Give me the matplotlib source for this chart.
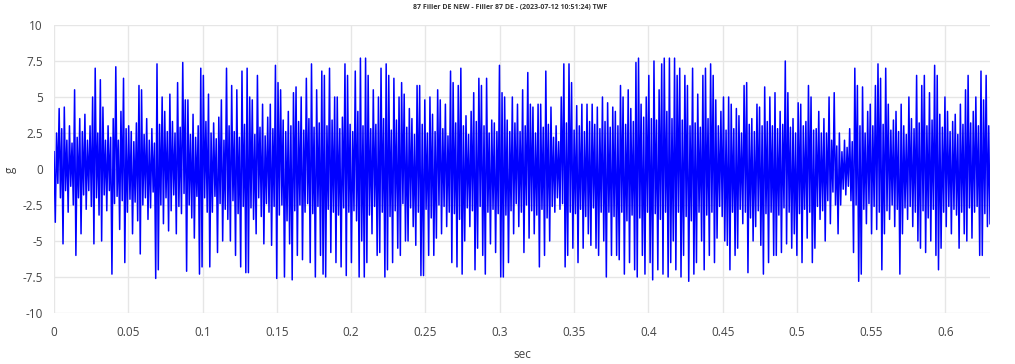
import numpy as np
import matplotlib
matplotlib.use('Agg')
import matplotlib.pyplot as plt

plt.rcParams['font.family'] = ['Open Sans', 'DejaVu Sans']

title = '87 Filler DE NEW - Filler 87 DE - (2023-07-12 10:51:24) TWF'
duration = 0.63  # sec, length of the record
x_ticks = [0, 0.05, 0.1, 0.15, 0.2, 0.25, 0.3, 0.35, 0.4, 0.45, 0.5, 0.55, 0.6]
y_ticks = [-10, -7.5, -5, -2.5, 0, 2.5, 5, 7.5, 10]

# waveform peaks (g), high/low pairs, left to right
seg1 = [1.2, -3.7, 2.5, -1.0, 4.2, -2.0, 2.8, -5.2, 4.3, -1.5, 2.0, -3.0, 3.0, -1.2, 1.8, -2.5,
        5.5, -6.0, 2.2, -2.0, 3.5, -4.5, 2.6, -1.8, 3.8, -2.8, 2.0, -1.5, 3.0, -2.6, 5.0, -5.2,
        7.0, -2.0, 2.5, -3.2, 6.2, -5.0, 4.3, -1.8, 2.0, -2.9, 3.0, -1.5, 2.2, -7.3, 3.5, -2.4,
        7.1, -1.9, 2.0, -4.2, 4.0, -2.2, 6.3, -6.5, 2.8, -3.0, 3.0, -2.1, 2.6, -4.5, 1.9, -2.3,
        3.2, -3.6, 5.8, -5.9, 5.5, -2.5, 2.4, -2.0, 3.5, -3.5, 2.0, -2.7, 2.8, -1.6, 1.8, -7.6,
        7.3, -7.0, 3.1, -2.5, 5.0, -3.8, 4.0, -2.0, 2.6, -4.3, 5.2, -2.9, 3.3, -1.8, 2.5, -4.5,
        6.0, -2.6, 2.9, -3.1, 7.4, -1.7, 4.8, -7.1, 4.8, -2.5, 2.4, -3.4, 3.8, -4.8, 2.2, -1.9,
        3.0, -7.3, 7.0, -6.8, 6.5, -2.0, 3.3, -3.0]
seg2 = [5.2, -6.8, 2.5, -3.0, 3.2, -1.9, 2.1, -5.8, 3.6, -2.4, 4.8, -5.0, 2.0, -2.8, 7.0, -3.5,
        3.0, -5.0, 5.8, -2.2, 2.6, -6.0, 5.5, -3.1, 2.2, -6.8, 6.8, -2.6, 3.1, -7.2, 7.0, -7.2,
        5.0, -2.7, 4.8, -3.5, 2.4, -4.5, 6.5, -2.0, 2.9, -3.3, 4.5, -5.2, 2.3, -2.4, 3.6, -3.0,
        4.5, -5.3, 2.8, -2.6, 7.2, -7.6, 6.0, -3.2, 5.5, -2.5, 3.4, -7.5, 2.6, -3.6, 4.0, -5.2,
        3.0, -7.7, 5.3, -2.9, 5.7, -6.0, 3.3, -2.5, 5.0, -6.3, 2.7, -3.0, 6.3, -2.4, 3.5, -6.5,
        7.3, -3.1, 2.9, -7.5, 5.5, -2.6, 3.2, -6.0, 6.8, -7.3, 6.5, -7.5, 3.0, -2.8, 7.0, -5.8,
        3.4, -3.0, 5.0, -6.5, 5.0, -3.2, 2.8, -6.8, 3.6, -2.7, 7.3, -7.4, 6.5, -3.0, 3.1, -6.5,
        2.6, -2.9, 6.8, -3.6, 4.0, -7.5, 7.7, -5.0]
seg3 = [3.0, -7.5, 7.7, -6.5, 6.5, -3.2, 2.8, -4.5, 5.5, -2.6, 3.1, -6.0, 5.0, -5.8, 7.0, -3.0,
        3.5, -7.5, 7.3, -7.0, 6.5, -3.3, 2.7, -6.5, 6.3, -2.9, 3.4, -5.5, 5.0, -6.0, 6.0, -2.4,
        5.2, -5.0, 2.9, -5.0, 4.2, -2.7, 3.5, -4.0, 2.4, -5.3, 5.8, -3.0, 5.8, -7.4, 3.1, -7.4,
        4.8, -2.8, 2.5, -6.0, 5.0, -3.4, 3.8, -6.0, 2.6, -4.8, 5.5, -2.5, 4.8, -4.5, 2.8, -2.6,
        4.5, -4.0, 2.3, -3.0, 6.8, -6.5, 6.0, -3.1, 3.2, -6.8, 5.8, -3.5, 7.0, -7.3, 3.0, -5.0,
        3.7, -2.7, 2.4, -4.0, 4.0, -2.9, 5.3, -7.0, 3.3, -5.5, 6.3, -2.6, 5.8, -6.0, 3.0, -7.3,
        6.3, -3.0, 2.5, -5.2, 3.4, -2.8, 3.2, -5.8, 2.6, -3.1, 7.2, -7.5, 5.3, -7.5, 5.0, -3.2,
        3.4, -6.5, 2.6, -2.9, 5.0, -4.5, 3.2, -2.4]
seg4 = [4.5, -4.0, 2.6, -3.0, 5.5, -5.8, 3.0, -2.5, 6.7, -4.8, 4.5, -2.9, 4.3, -4.5, 2.5, -3.2,
        4.5, -6.8, 4.5, -2.8, 2.9, -6.0, 6.8, -3.4, 3.1, -5.0, 4.3, -2.6, 2.2, -3.0, 3.0, -2.0,
        1.9, -2.8, 5.0, -2.4, 7.3, -6.8, 3.2, -6.0, 7.3, -3.0, 6.0, -5.5, 2.7, -3.1, 4.4, -6.5,
        3.0, -2.8, 4.5, -5.5, 2.6, -3.3, 4.5, -4.5, 3.3, -5.3, 4.5, -2.7, 3.1, -5.5, 4.3, -6.0,
        2.8, -3.0, 5.0, -5.0, 3.3, -7.5, 4.6, -3.0, 2.9, -6.0, 4.3, -3.3, 4.0, -6.0, 3.0, -6.3,
        5.8, -3.0, 5.0, -7.3, 3.1, -3.6, 5.5, -6.5, 4.2, -3.2, 3.3, -7.0, 7.4, -7.5, 7.7, -3.4,
        4.5, -6.0, 3.6, -7.3, 5.0, -3.0, 6.5, -6.5, 3.5, -7.7, 7.5, -3.1, 3.4, -7.0, 5.5, -3.5,
        7.3, -7.3, 7.7, -3.0, 4.0, -7.5, 7.7, -6.5]
seg5 = [3.5, -5.0, 7.7, -7.0, 6.5, -3.0, 7.0, -7.5, 3.4, -6.0, 6.5, -3.3, 5.8, -7.8, 3.0, -3.6,
        7.0, -7.3, 3.2, -6.5, 5.2, -3.0, 2.9, -5.0, 6.5, -7.0, 7.0, -3.2, 3.5, -6.0, 7.3, -3.0,
        6.5, -6.5, 4.8, -4.8, 3.0, -2.6, 4.0, -3.3, 5.0, -5.0, 2.7, -5.3, 5.0, -7.0, 4.5, -3.0,
        2.8, -6.0, 4.2, -5.5, 3.7, -2.8, 2.5, -3.8, 5.8, -3.0, 6.0, -7.2, 3.1, -3.4, 3.5, -5.0,
        2.6, -4.0, 4.5, -2.9, 4.3, -5.3, 3.0, -7.3, 5.7, -3.1, 3.3, -6.5, 5.0, -3.0, 3.0, -6.0,
        5.3, -6.0, 2.8, -3.2, 4.0, -5.8, 3.1, -2.7, 7.5, -5.2, 5.3, -3.0, 2.9, -5.5, 3.5, -4.5,
        2.5, -6.0, 4.6, -3.1, 4.5, -6.5, 3.0, -2.8, 3.3, -4.8, 5.8, -3.0, 5.0, -6.5, 2.7, -5.5,
        2.8, -2.6, 4.0, -3.5, 2.5, -2.9, 3.5, -5.0]
seg6 = [2.5, -2.2, 5.0, -3.8, 2.0, -1.6, 5.3, -2.5, 1.6, -4.5, 2.5, -2.5, 1.2, -1.4, 2.0, -1.8,
        1.5, -1.2, 2.8, -2.2, 1.9, -5.8, 7.0, -2.5, 5.8, -7.8, 3.0, -7.3, 5.7, -2.8, 2.5, -3.8,
        4.0, -2.4, 4.5, -4.5, 3.0, -2.6, 5.8, -4.2, 7.3, -3.0, 6.3, -7.0, 3.1, -4.5, 7.0, -2.9,
        4.5, -3.5, 2.7, -2.5, 3.4, -4.0, 4.0, -2.8, 2.6, -7.3, 4.5, -4.5, 3.0, -2.7, 2.4, -3.5,
        5.0, -2.6, 3.5, -4.0, 2.8, -3.0, 6.5, -5.0, 3.2, -5.5, 5.8, -2.9, 6.5, -5.8, 3.0, -3.4,
        5.3, -5.0, 3.4, -2.8, 7.2, -6.0, 6.5, -7.0, 3.8, -5.5, 2.9, -3.0, 5.0, -4.0, 4.0, -2.6,
        2.6, -4.5, 3.3, -2.8, 3.8, -3.2, 2.4, -5.5, 4.5, -3.0, 3.1, -4.5, 5.5, -5.0, 6.5, -2.7,
        3.2, -4.8, 4.0, -3.0, 5.0, -2.6, 3.0, -6.0, 6.8, -6.0, 4.8, -3.1, 6.5, -4.0, 3.0, -3.8]

g = np.array(seg1 + seg2 + seg3 + seg4 + seg5 + seg6)
t = np.linspace(0, duration, len(g))

fig = plt.figure(figsize=(10.15, 3.64), dpi=100)
ax = fig.add_axes([54 / 1015, 1 - 313 / 364, 936 / 1015, 288 / 364])

ax.plot(t, g, color='#0000ff', lw=1.1)

ax.set_xlim(0, duration)
ax.set_ylim(-10, 10)
ax.set_xticks(x_ticks)
ax.set_xticklabels([f'{v:g}' for v in x_ticks])
ax.set_yticks(y_ticks)
ax.set_yticklabels([f'{v:g}' for v in y_ticks])
ax.grid(True, color='#e6e6e6', lw=1)
ax.set_axisbelow(True)
for s in ax.spines.values():
    s.set_visible(False)
ax.tick_params(axis='both', length=0, labelsize=8.5, labelcolor='#444444')
ax.tick_params(axis='x', pad=9)
ax.tick_params(axis='y', pad=8)

fig.text(522 / 1015, 1 - 355 / 364, 'sec', ha='center', va='center', fontsize=8.5, color='#444444')
fig.text(10 / 1015, 1 - 170 / 364, 'g', ha='center', va='center', fontsize=8.5, color='#444444',
         rotation=90)
fig.text(510 / 1015, 1 - 7 / 364, title, ha='center', va='center', fontsize=5,
         fontweight='bold', color='#333333')

fig.savefig('out.png', dpi=100)
